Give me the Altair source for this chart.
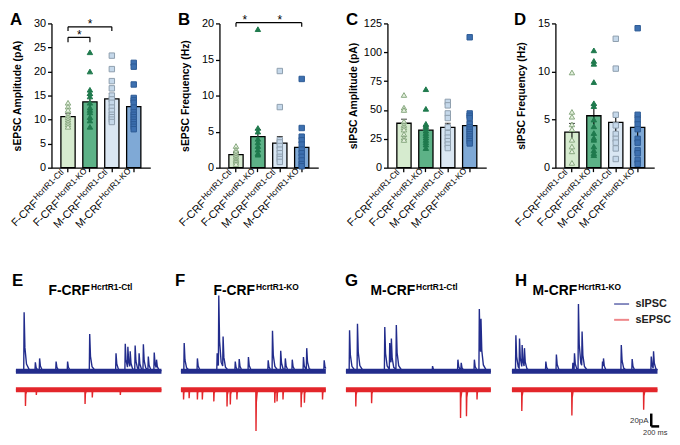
import altair as alt
import pandas as pd

FONT = "Liberation Sans"

# ---- groups / labels ----
groups = ["F-Ctl", "F-KO", "M-Ctl", "M-KO"]
label_main = ["F-CRF", "F-CRF", "M-CRF", "M-CRF"]
label_sup = ["HcrtR1-Ctl", "HcrtR1-KO", "HcrtR1-Ctl", "HcrtR1-KO"]

bar_colors = ["#d6ebcf", "#5db287", "#dae7f3", "#7fa9d6"]
pt_fill = ["#e6f2df", "#1f7a4d", "#c5d8ea", "#3d70b0"]
pt_stroke = ["#86a77e", "#1f7a4d", "#8e9eae", "#2d5a94"]
pt_shape = ["triangle-up", "triangle-up", "square", "square"]

# ---- A: sEPSC amplitude (pA) ----
a_mean = [10.6, 13.7, 14.3, 12.7]
a_sem = [0.6, 1.3, 1.1, 1.2]
a_fctl = [13.5, 12.7, 12.0, 11.0, 10.5, 10.0, 9.5, 9.0, 8.5]
a_fko = [24.0, 20.0, 16.2, 15.5, 14.8, 13.5, 12.5, 12.0, 11.5, 10.5, 9.8, 8.5]
a_mctl = [23.3, 20.5, 18.0, 16.5, 15.0, 14.2, 13.5, 12.5, 11.8, 11.0, 10.5, 10.0, 9.5]
a_mko = [21.8, 21.0, 17.3, 14.5, 14.0, 13.5, 12.5, 11.5, 11.0, 10.5, 10.0, 9.5, 9.0, 8.5, 8.0]

# ---- B: sEPSC frequency (Hz) ----
b_mean = [1.8, 4.3, 3.4, 2.8]
b_sem = [0.3, 1.0, 0.9, 0.8]
b_fctl = [3.0, 2.5, 2.2, 1.8, 1.5, 1.2, 1.0, 0.8, 0.5]
b_fko = [19.2, 5.5, 5.0, 4.0, 3.5, 3.0, 2.5, 2.0, 1.8]
b_mctl = [13.4, 8.4, 3.8, 3.5, 3.0, 2.5, 2.0, 1.5, 1.2, 0.8]
b_mko = [12.3, 5.5, 4.3, 3.8, 3.2, 2.5, 2.0, 1.5, 1.0, 0.5, 0.2]

# ---- C: sIPSC amplitude (pA) ----
c_mean = [38.5, 32.5, 35.0, 36.5]
c_sem = [3.5, 3.0, 3.5, 3.0]
c_fctl = [63, 52, 50, 40, 37, 35, 33, 29, 26, 24]
c_fko = [68, 51, 38, 36, 34, 32, 30, 28, 26, 24, 22, 20, 17]
c_mctl = [57, 54, 47, 43, 35, 30, 26, 23, 20, 17]
c_mko = [113, 47, 45, 43, 38, 35, 33, 31, 29, 27, 25, 23, 21]

# ---- D: sIPSC frequency (Hz) ----
d_mean = [3.7, 5.4, 4.7, 4.2]
d_sem = [0.9, 1.1, 0.9, 1.2]
d_fctl = [9.9, 5.8, 5.3, 4.5, 4.0, 2.9, 2.2, 1.7, 0.5]
d_fko = [12.2, 11.1, 10.8, 8.9, 6.7, 6.4, 5.0, 4.3, 3.6, 3.1, 2.9, 2.2, 1.8, 1.5, 1.3]
d_mctl = [13.4, 10.3, 5.5, 4.4, 3.5, 3.0, 2.6, 2.0, 0.9]
d_mko = [14.5, 5.5, 5.0, 4.5, 4.0, 3.0, 2.6, 1.8, 1.5, 0.8, 0.4]

# significance brackets: (from, to, level, drop)
a_brackets = [("F-Ctl", "F-KO", 27.1, 1.0), ("F-Ctl", "M-Ctl", 29.3, 0.9)]
b_brackets = [("F-Ctl", "M-KO", 20.1, 0.55)]
# stars: (group, pixel shift, level)
a_stars = [("F-Ctl", 11.5, 27.1), ("F-KO", 0, 29.3)]
b_stars = [("F-Ctl", 9, 20.1), ("M-Ctl", 0, 20.1)]

# ---- traces: event times (ms) and amplitudes (pA) ----
e_ipsc_t = [208, 492, 600, 1017, 1308, 1867, 2533, 2767, 2833, 2892, 3017, 3117, 3225, 3350, 3500, 3558]
e_ipsc_a = [92, 14, 20, 15, 15, 58, 28, 43, 38, 31, 40, 28, 42, 23, 29, 18]
e_epsc_t = [242, 517, 1750, 1933, 2642]
e_epsc_a = [25, 8, 22, 12, 8]

f_ipsc_t = [83, 417, 917, 958, 1067, 1375, 1475, 1708, 2208, 2317, 2525, 2642, 2817, 3100, 3183, 3625]
f_ipsc_a = [44, 20, 28, 118, 54, 15, 19, 22, 17, 63, 32, 20, 18, 22, 36, 17]
f_epsc_t = [67, 208, 417, 542, 833, 1167, 1250, 1417, 1900, 2375, 2433, 2583, 3042, 3125, 3583]
f_epsc_a = [15, 13, 15, 15, 18, 26, 23, 15, 64, 20, 18, 15, 27, 20, 15]

g_ipsc_t = [92, 292, 983, 1108, 1150, 1275, 2192, 2833, 2917, 3250, 3375, 3417]
g_ipsc_a = [64, 74, 69, 44, 51, 72, 8, 18, 13, 18, 97, 82]
g_epsc_t = [250, 650, 2900, 3050, 3317]
g_epsc_a = [26, 21, 44, 41, 15]

h_ipsc_t = [100, 192, 258, 317, 858, 1125, 1542, 1583, 1683, 1775, 2292, 2317, 2767, 3042, 3525, 3583]
h_ipsc_a = [56, 51, 41, 36, 15, 26, 13, 28, 105, 62, 15, 20, 41, 19, 23, 31]
h_epsc_t = [250, 1517, 3333]
h_epsc_a = [33, 40, 31]

trace_end = [3683, 3667, 3667, 3683]
trace_titles = ["F-CRF", "F-CRF", "M-CRF", "M-CRF"]
trace_sups = ["HcrtR1-Ctl", "HcrtR1-KO", "HcrtR1-Ctl", "HcrtR1-KO"]
trace_letters = ["E", "F", "G", "H"]

scale_ms = 200
scale_pA = 20

# ---- layout / style constants ----
W_TOP, H_TOP = 100, 146
MS_PER_PX = 25
panel_start = [0, 4175, 8350, 12550]      # where each recording starts on the shared time axis
title_junction = [1875, 1875, 1750, 1650]  # ms after panel start
letter_shift = [-100, -150, -25, 75]
W_TR, H_TR = 613, 160
T_DOMAIN = [900, 900 + W_TR * MS_PER_PX]
Y_DOMAIN = [-95.5, 151]
RED_OFFSET = -29
BLUE = "#222c8c"
RED = "#e3262b"

xscale = alt.Scale(domain=groups, paddingInner=0.35, paddingOuter=0.43)


def bar_panel(letter, ytitle, ymax, ystep, means, sems, pts, brackets=(), stars=()):
    bars = pd.DataFrame({
        "group": groups, "mean": means,
        "lo": [m - s for m, s in zip(means, sems)],
        "hi": [m + s for m, s in zip(means, sems)],
        "fill": bar_colors, "main": label_main, "sup": label_sup,
    })
    rows = []
    for g, vals, f, s, sh in zip(groups, pts, pt_fill, pt_stroke, pt_shape):
        rows += [{"group": g, "value": v, "fill": f, "stroke": s, "shape": sh} for v in vals]
    points = pd.DataFrame(rows)

    yscale = alt.Scale(domain=[0, ymax], nice=False)
    x = alt.X("group:N", scale=xscale, axis=alt.Axis(
        labels=False, title=None, tickSize=4, tickColor="black", domainColor="black",
        tickWidth=1.3, domainWidth=1.3))
    y_axis = alt.Axis(values=list(range(0, ymax + 1, ystep)), title=ytitle, grid=False,
                      tickSize=4, tickColor="black", domainColor="black", tickWidth=1.3,
                      domainWidth=1.3, labelFontSize=11, labelColor="black", titleFontSize=10.5,
                      titleFontWeight="bold", titleColor="black", titleX=-29,
                      labelOverlap=False)

    def Y(field):
        return alt.Y(field, scale=yscale, axis=y_axis, title=ytitle)

    base = alt.Chart(bars)
    layers = [
        base.mark_bar(stroke="black", strokeWidth=1.3).encode(
            x=x, y=Y("mean:Q"), fill=alt.Fill("fill:N", scale=None)),
        base.mark_rule(color="black", strokeWidth=1.1).encode(
            x="group:N", y=Y("lo:Q"), y2="hi:Q"),
        base.mark_tick(color="black", thickness=1.1, size=6).encode(x="group:N", y=Y("hi:Q")),
        alt.Chart(points).mark_point(filled=True, size=30, strokeWidth=1, opacity=1).encode(
            x="group:N", y=Y("value:Q"),
            fill=alt.Fill("fill:N", scale=None),
            stroke=alt.Stroke("stroke:N", scale=None),
            shape=alt.Shape("shape:N", scale=None)),
        base.mark_text(angle=315, align="right", baseline="alphabetic", dx=-42, fontSize=11,
                       color="black").encode(x="group:N", y=alt.value(H_TOP + 7), text="main:N"),
        base.mark_text(angle=315, align="left", baseline="alphabetic", dx=-41, dy=-4,
                       fontSize=8.5, color="black").encode(
            x="group:N", y=alt.value(H_TOP + 7), text="sup:N"),
        alt.Chart(pd.DataFrame({"t": [letter]})).mark_text(
            fontSize=17, fontWeight="bold", align="left", color="black").encode(
            x=alt.value(-42), y=alt.value(-3), text="t:N"),
    ]
    if brackets:
        br = pd.DataFrame(brackets, columns=["a", "b", "level", "drop"])
        br["low"] = br["level"] - br["drop"]
        bb = alt.Chart(br)
        layers += [
            bb.mark_rule(color="black", strokeWidth=1.2).encode(
                x=alt.X("a:N"), x2="b:N", y=Y("level:Q")),
            bb.mark_rule(color="black", strokeWidth=1.2).encode(
                x=alt.X("a:N"), y=Y("level:Q"), y2="low:Q"),
            bb.mark_rule(color="black", strokeWidth=1.2).encode(
                x=alt.X("b:N"), y=Y("level:Q"), y2="low:Q"),
        ]
    for g, shift, lev in stars:
        layers.append(alt.Chart(pd.DataFrame({"group": [g], "level": [lev], "s": ["*"]}))
                      .mark_text(fontSize=12, dx=shift, dy=1.5, baseline="alphabetic",
                                 color="black")
                      .encode(x="group:N", y=Y("level:Q"), text="s:N"))
    return alt.layer(*layers).properties(width=W_TOP, height=H_TOP)


def kernel_rows(times, amps, end, kind, offset, start, series):
    if kind == "sIPSC":
        shape = [(-10, 0.0), (0, 1.0), (20, 0.4), (60, 0.12), (150, 0.0)]
    else:
        shape = [(-5, 0.0), (0, 1.0), (8, 0.3), (35, 0.0)]
    knots = {0, end}
    for t in times:
        for dt, _ in shape:
            if 0 <= t + dt <= end:
                knots.add(t + dt)

    def val(tt):
        best = 0.0
        for t, a in zip(times, amps):
            dt = tt - t
            for (d0, f0), (d1, f1) in zip(shape[:-1], shape[1:]):
                if d0 <= dt <= d1:
                    best = max(best, a * (f0 + (f1 - f0) * (dt - d0) / (d1 - d0)))
        return best

    sign = 1 if kind == "sIPSC" else -1
    return [{"t": start + tt, "v": offset + sign * val(tt), "kind": kind, "series": series}
            for tt in sorted(knots)]


recordings = [
    ((e_ipsc_t, e_ipsc_a), (e_epsc_t, e_epsc_a)),
    ((f_ipsc_t, f_ipsc_a), (f_epsc_t, f_epsc_a)),
    ((g_ipsc_t, g_ipsc_a), (g_epsc_t, g_epsc_a)),
    ((h_ipsc_t, h_ipsc_a), (h_epsc_t, h_epsc_a)),
]

rows, bands, letters, titles = [], [], [], []
for i, (ipsc, epsc) in enumerate(recordings):
    s, end = panel_start[i], trace_end[i]
    rows += kernel_rows(ipsc[0], ipsc[1], end, "sIPSC", 0, s, f"{i}i")
    rows += kernel_rows(epsc[0], epsc[1], end, "sEPSC", RED_OFFSET, s, f"{i}e")
    bands += [{"t0": s, "t1": s + end, "v": 0, "kind": "sIPSC"},
              {"t0": s, "t1": s + end, "v": RED_OFFSET, "kind": "sEPSC"}]
    letters.append({"t": s + letter_shift[i], "v": 140, "s": trace_letters[i]})
    titles.append({"t": s + title_junction[i], "v": 124.5, "main": trace_titles[i],
                   "sup": trace_sups[i], "v2": 131.5})

traces = pd.DataFrame(rows)
bands = pd.DataFrame(bands)
letters = pd.DataFrame(letters)
titles = pd.DataFrame(titles)

color = alt.Color("kind:N", scale=alt.Scale(domain=["sIPSC", "sEPSC"], range=[BLUE, RED]),
                  legend=alt.Legend(orient="none", legendX=568, legendY=275, title=None,
                                    symbolType="stroke", symbolSize=230, symbolStrokeWidth=2,
                                    symbolOpacity=0.55, labelFontSize=11, labelFontWeight="bold",
                                    labelColor="#222", labelOffset=5, rowPadding=2))

xs = alt.Scale(domain=T_DOMAIN, nice=False, zero=False)
ys = alt.Scale(domain=Y_DOMAIN, nice=False, zero=False)

sb_t0, sb_y0 = panel_start[3] + 3525, -86
scalebar = pd.DataFrame({"t0": [sb_t0, sb_t0], "t1": [sb_t0 + scale_ms, sb_t0],
                         "y0": [sb_y0, sb_y0], "y1": [sb_y0, sb_y0 + scale_pA]})
sb_text = pd.DataFrame({"t": [sb_t0 - 70, sb_t0 + 100], "v": [sb_y0 + 9, sb_y0 - 4],
                        "s": [f"{scale_pA}pA", f"{scale_ms} ms"]})

bottom = alt.layer(
    alt.Chart(bands).mark_rule(strokeWidth=5).encode(
        x=alt.X("t0:Q", scale=xs, axis=None), x2="t1:Q",
        y=alt.Y("v:Q", scale=ys, axis=None), color=color),
    alt.Chart(traces).mark_line(strokeWidth=1.4).encode(
        x="t:Q", y="v:Q", color=color, detail="series:N"),
    alt.Chart(letters).mark_text(fontSize=17, fontWeight="bold", align="left",
                                 color="black").encode(x="t:Q", y="v:Q", text="s:N"),
    alt.Chart(titles).mark_text(fontSize=14, fontWeight="bold", align="right",
                                color="black").encode(x="t:Q", y="v:Q", text="main:N"),
    alt.Chart(titles).mark_text(fontSize=8.5, fontWeight="bold", align="left", dx=1,
                                color="black").encode(x="t:Q", y="v2:Q", text="sup:N"),
    alt.Chart(scalebar).mark_rule(color="black", strokeWidth=2.5).encode(
        x="t0:Q", x2="t1:Q", y="y0:Q", y2="y1:Q"),
    alt.Chart(sb_text.iloc[:1]).mark_text(fontSize=8, align="right", color="#333").encode(
        x="t:Q", y="v:Q", text="s:N"),
    alt.Chart(sb_text.iloc[1:]).mark_text(fontSize=7.5, align="center", baseline="top",
                                          color="#333").encode(x="t:Q", y="v:Q", text="s:N"),
).properties(width=W_TR, height=H_TR)

top = alt.hconcat(
    bar_panel("A", "sEPSC Amplitude (pA)", 30, 5, a_mean, a_sem,
              [a_fctl, a_fko, a_mctl, a_mko], a_brackets, a_stars),
    bar_panel("B", "sEPSC Frequency (Hz)", 20, 5, b_mean, b_sem,
              [b_fctl, b_fko, b_mctl, b_mko], b_brackets, b_stars),
    bar_panel("C", "sIPSC Amplitude (pA)", 125, 25, c_mean, c_sem,
              [c_fctl, c_fko, c_mctl, c_mko]),
    bar_panel("D", "sIPSC Frequency (Hz)", 15, 5, d_mean, d_sem,
              [d_fctl, d_fko, d_mctl, d_mko]),
    spacing=70, bounds="flush",
)

chart = (
    alt.vconcat(top, bottom, spacing=41)
    .properties(padding={"left": 0, "top": 0, "right": 0, "bottom": 0}, background="white")
    .configure_view(stroke="transparent")
    .configure_axis(labelFont=FONT, titleFont=FONT)
    .configure_text(font=FONT)
    .configure_legend(labelFont=FONT)
)

chart.save("out.html", embed_options={"renderer": "svg", "actions": False})
